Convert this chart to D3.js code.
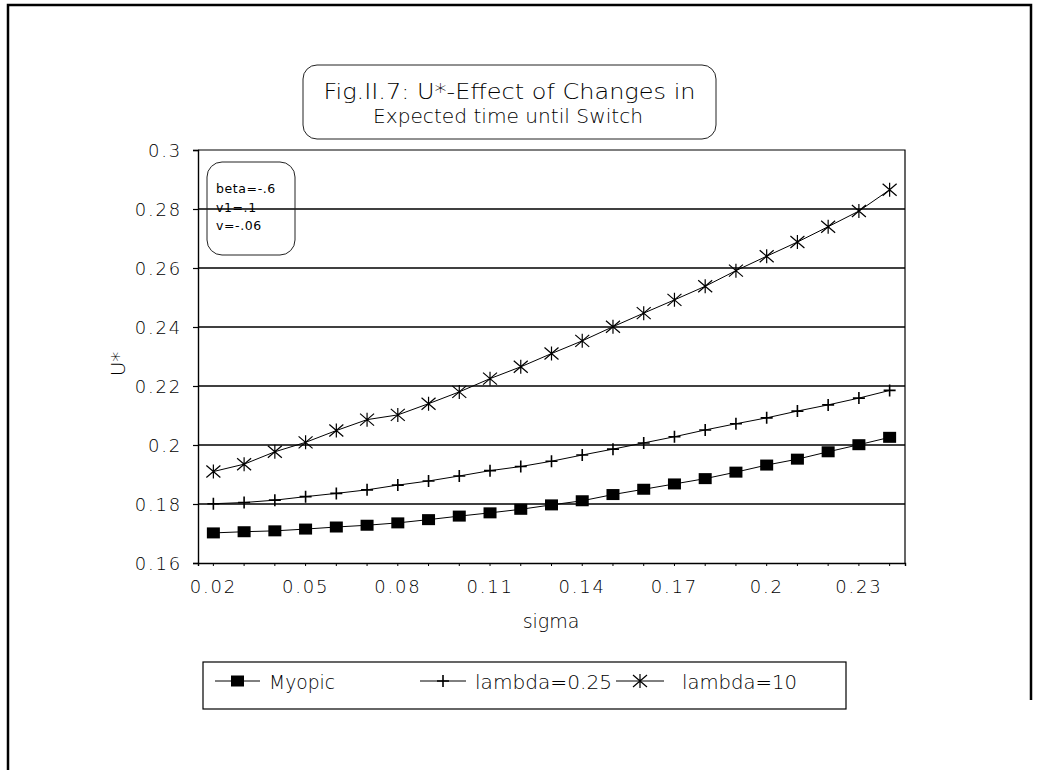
<!DOCTYPE html>
<html>
<head>
<meta charset="utf-8">
<script src="https://cdn.jsdelivr.net/npm/d3@7/dist/d3.min.js"></script>
<style>
  html, body { margin: 0; padding: 0; background: #fff; }
  svg { display: block; }
  text { font-family: "DejaVu Sans", sans-serif; fill: #000; }
</style>
</head>
<body>
<svg id="chart" width="1041" height="770"></svg>
<script>
// ---- data ----
const sigma = [0.02,0.03,0.04,0.05,0.06,0.07,0.08,0.09,0.10,0.11,0.12,0.13,0.14,0.15,0.16,0.17,0.18,0.19,0.20,0.21,0.22,0.23,0.24];
const myopic = [0.1702,0.1706,0.1709,0.1715,0.1722,0.1728,0.1736,0.1747,0.1759,0.1770,0.1782,0.1797,0.1811,0.1832,0.1850,0.1868,0.1886,0.1908,0.1932,0.1952,0.1977,0.2001,0.2026];
const lambda025 = [0.1801,0.1805,0.1813,0.1825,0.1836,0.1848,0.1864,0.1878,0.1895,0.1913,0.1927,0.1945,0.1966,0.1986,0.2007,0.2028,0.2051,0.2072,0.2092,0.2115,0.2136,0.2159,0.2185];
const lambda10 = [0.1910,0.1935,0.1977,0.2009,0.2049,0.2086,0.2102,0.2140,0.2180,0.2225,0.2265,0.2310,0.2353,0.2401,0.2447,0.2492,0.2538,0.2591,0.2640,0.2688,0.2740,0.2793,0.2865];
const yTicks = [0.16,0.18,0.2,0.22,0.24,0.26,0.28,0.3];
const yTickLabels = ["0.16","0.18","0.2","0.22","0.24","0.26","0.28","0.3"];
const xTickLabels = ["0.02","0.05","0.08","0.11","0.14","0.17","0.2","0.23"];
const seriesNames = ["Myopic","lambda=0.25","lambda=10"];
const titleLines = ["Fig.II.7: U*-Effect of Changes in","Expected time until Switch"];
const noteLines = ["beta=-.6","v1=.1","v=-.06"];

// ---- layout ----
const svg = d3.select("#chart");
const P = {left:198, right:905, top:150, bottom:563};

const cats = sigma.map(d => d.toFixed(2));
const x = d3.scaleBand().domain(cats).range([P.left, P.right]);
const xc = s => x(s.toFixed(2)) + x.bandwidth()/2;
const y = d3.scaleLinear().domain([0.16, 0.30]).range([P.bottom, P.top]);

// outer frame
svg.append("path")
  .attr("d", "M8,770 L8,5 L1031,5 L1031,700")
  .attr("fill","none").attr("stroke","#000").attr("stroke-width",2.5);

// title box
svg.append("rect").attr("x",303).attr("y",65).attr("width",413).attr("height",74)
  .attr("rx",14).attr("ry",14).attr("fill","none").attr("stroke","#222").attr("stroke-width",1);
svg.append("text").attr("x",509.5).attr("y",99).attr("text-anchor","middle").attr("font-weight",300)
  .attr("font-size",21).attr("textLength",372).attr("lengthAdjust","spacingAndGlyphs").text(titleLines[0]);
svg.append("text").attr("x",508).attr("y",123).attr("text-anchor","middle").attr("font-weight",300)
  .attr("font-size",19).attr("textLength",270).attr("lengthAdjust","spacingAndGlyphs").text(titleLines[1]);

// gridlines
svg.append("g").selectAll("line").data(yTicks.filter(v => v > 0.16 && v < 0.3)).join("line")
  .attr("x1",P.left).attr("x2",P.right).attr("y1",d=>y(d)).attr("y2",d=>y(d))
  .attr("stroke","#000").attr("stroke-width",1.4);

// plot frame top/right
svg.append("path").attr("d",`M${P.left},${P.top} L${P.right},${P.top} L${P.right},${P.bottom}`)
  .attr("fill","none").attr("stroke","#000").attr("stroke-width",1.2);

// y axis
const yAxis = d3.axisLeft(y).tickValues(yTicks).tickFormat((d,i)=>yTickLabels[i]).tickSize(5).tickPadding(11);
const gy = svg.append("g").attr("transform",`translate(${P.left},0)`).call(yAxis);
gy.select(".domain").attr("stroke","#000").attr("stroke-width",1.4);
gy.selectAll(".tick line").attr("stroke","#000").attr("stroke-width",1.2);
gy.selectAll(".tick text").attr("font-family","DejaVu Sans").attr("font-weight",300).attr("font-size",18).attr("letter-spacing",1.8).attr("dy","0.35em");

// x axis
const xAxis = d3.axisBottom(x).tickValues(cats)
  .tickFormat(d => { const t = xTickLabels.find(v => +v === +d); return t === undefined ? "" : t; })
  .tickSize(3).tickPadding(14);
const gx = svg.append("g").attr("transform",`translate(0,${P.bottom})`).call(xAxis);
gx.select(".domain").attr("stroke","#000").attr("stroke-width",1.4);
gx.selectAll(".tick line").attr("stroke","#000").attr("stroke-width",1);
gx.selectAll(".tick text").attr("font-family","DejaVu Sans").attr("font-weight",300).attr("font-size",18).attr("letter-spacing",1.8);

// axis titles
svg.append("text").attr("x",551).attr("y",628).attr("text-anchor","middle").attr("font-weight",300).attr("font-size",19).text("sigma");
svg.append("text").attr("transform","translate(125,364) rotate(-90)").attr("text-anchor","middle").attr("font-weight",300).attr("font-size",20).text("U*");

// annotation box
svg.append("rect").attr("x",207).attr("y",162).attr("width",88).attr("height",93)
  .attr("rx",15).attr("ry",15).attr("fill","none").attr("stroke","#222").attr("stroke-width",1);
svg.append("g").selectAll("text").data(noteLines).join("text")
  .attr("x",216).attr("y",(d,i)=>193 + i*18.5).attr("font-size",12.5).attr("font-weight",400).attr("letter-spacing",0.6).text(d=>d);

// series
const seriesData = [myopic, lambda025, lambda10];
const line = d3.line().x((d,i)=>xc(sigma[i])).y(d=>y(d));
svg.append("g").selectAll("path").data(seriesData).join("path")
  .attr("d", d=>line(d)).attr("fill","none").attr("stroke","#000").attr("stroke-width",1);

function marker(g, type) {
  if (type === 0) {
    g.append("rect").attr("x",-6.5).attr("y",-5.5).attr("width",13).attr("height",11).attr("fill","#000");
  } else if (type === 1) {
    g.append("path").attr("d","M-6,0 L6,0 M0,-6 L0,6").attr("stroke","#000").attr("stroke-width",1.6).attr("fill","none");
  } else {
    g.append("path").attr("d","M-7,-6 L7,6 M-7,6 L7,-6 M0,-7 L0,7").attr("stroke","#000").attr("stroke-width",1.2).attr("fill","none");
  }
}
seriesData.forEach((vals, si) => {
  svg.append("g").selectAll("g").data(vals).join("g")
    .attr("transform",(d,i)=>`translate(${xc(sigma[i])},${y(d)})`)
    .each(function(){ marker(d3.select(this), si); });
});

// legend
svg.append("rect").attr("x",203).attr("y",662).attr("width",643).attr("height",47)
  .attr("fill","none").attr("stroke","#000").attr("stroke-width",1.2);
const leg = [
  {x1:215, x2:260, tx:269, tl:66},
  {x1:420, x2:466, tx:475, tl:137},
  {x1:616, x2:664, tx:682, tl:115}
];
leg.forEach((L, i) => {
  svg.append("line").attr("x1",L.x1).attr("x2",L.x2).attr("y1",681).attr("y2",681).attr("stroke","#000").attr("stroke-width",1);
  const g = svg.append("g").attr("transform",`translate(${(L.x1+L.x2)/2},681)`);
  marker(g, i);
  svg.append("text").attr("x",L.tx).attr("y",689).attr("font-size",19).attr("font-weight",300)
    .attr("textLength",L.tl).attr("lengthAdjust","spacingAndGlyphs").text(seriesNames[i]);
});
</script>
</body>
</html>
